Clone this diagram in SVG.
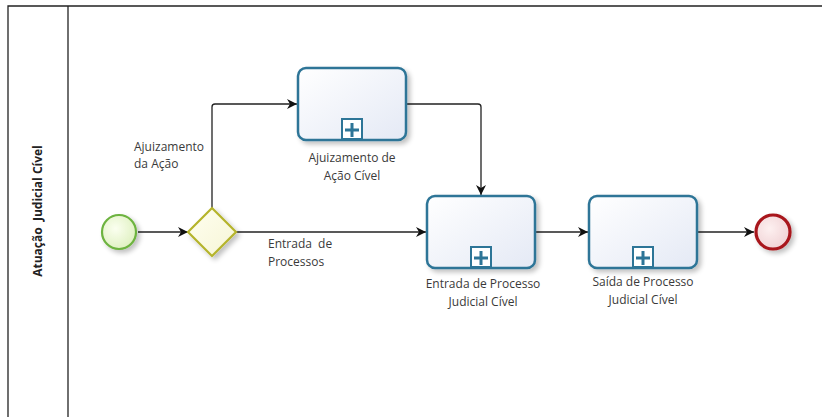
<svg xmlns="http://www.w3.org/2000/svg" width="822" height="417" viewBox="0 0 822 417">
<defs>
<linearGradient id="gTask" x1="0" y1="0" x2="1" y2="1">
<stop offset="0" stop-color="#ffffff"/><stop offset="1" stop-color="#e4e9f5"/>
</linearGradient>
<radialGradient id="gStart" cx="0.4" cy="0.4" r="0.7">
<stop offset="0" stop-color="#fbfff0"/><stop offset="1" stop-color="#dcefbc"/>
</radialGradient>
<radialGradient id="gEnd" cx="0.4" cy="0.4" r="0.7">
<stop offset="0" stop-color="#fdf0f0"/><stop offset="1" stop-color="#efcfd2"/>
</radialGradient>
<linearGradient id="gGw" x1="0" y1="0" x2="1" y2="1">
<stop offset="0" stop-color="#fffff0"/><stop offset="1" stop-color="#f6f5d6"/>
</linearGradient>
<filter id="sh" x="-20%" y="-20%" width="150%" height="150%">
<feGaussianBlur in="SourceAlpha" stdDeviation="2.5"/>
<feOffset dx="3" dy="3" result="b"/>
<feComponentTransfer><feFuncA type="linear" slope="0.25"/></feComponentTransfer>
<feMerge><feMergeNode/><feMergeNode in="SourceGraphic"/></feMerge>
</filter>
<marker id="arr" viewBox="0 0 10 10" refX="10" refY="5" markerWidth="10" markerHeight="10" markerUnits="userSpaceOnUse" orient="auto">
<path d="M0,0 L10,5 L0,10 L3,5 Z" fill="#111"/>
</marker>
</defs>
<style>
text{font-family:"Open Sans","Liberation Sans",sans-serif;font-size:12px;fill:#3a3a3a;white-space:pre}
.task{fill:url(#gTask);stroke:#2d7597;stroke-width:2.5}
.mk{fill:#ffffff;stroke:#2d7597;stroke-width:2}
.plus{fill:#2d7597}
.flow{fill:none;stroke:#222;stroke-width:1.3}
.pool{fill:none;stroke:#222;stroke-width:1.3}
</style>
<rect width="822" height="417" fill="#ffffff"/>
<g id="pool">
<path class="pool" d="M8,417 V6 H822"/>
<line class="pool" x1="68" y1="6" x2="68" y2="417"/>
<text transform="translate(42,211) rotate(-90)" text-anchor="middle" style="font-weight:bold;font-size:12px;fill:#222">Atuação  Judicial Cível</text>
</g>
<g id="connectors">
<line class="flow" x1="138" y1="232" x2="188" y2="232" marker-end="url(#arr)"/>
<path class="flow" d="M212,208 V107 Q212,104 215,104 H297" marker-end="url(#arr)"/>
<path class="flow" d="M236,232 H426" marker-end="url(#arr)"/>
<path class="flow" d="M406,104 H478 Q481,104 481,107 V195" marker-end="url(#arr)"/>
<line class="flow" x1="536" y1="232" x2="588" y2="232" marker-end="url(#arr)"/>
<line class="flow" x1="697" y1="232" x2="754" y2="232" marker-end="url(#arr)"/>
<text x="134" y="151">Ajuizamento</text>
<text x="134" y="168">da Ação</text>
<text x="268" y="248">Entrada  de</text>
<text x="268" y="266">Processos</text>
</g>
<g id="start">
<circle cx="119" cy="232" r="17" fill="url(#gStart)" stroke="#6db33f" stroke-width="2.2" filter="url(#sh)"/>
</g>
<g id="gateway">
<polygon points="212,208 236,232 212,256 188,232" fill="url(#gGw)" stroke="#b5b42c" stroke-width="2.2" filter="url(#sh)"/>
</g>
<g id="task1">
<rect class="task" x="298" y="68" width="108" height="72" rx="8" filter="url(#sh)"/>
<rect class="mk" x="342" y="119" width="20" height="20"/>
<path class="plus" d="M350.5,123h3v5.5h5.5v3h-5.5v5.5h-3v-5.5h-5.5v-3h5.5z"/>
<text x="352" y="162" text-anchor="middle">Ajuizamento de</text>
<text x="352" y="180" text-anchor="middle">Ação Cível</text>
</g>
<g id="task2">
<rect class="task" x="427" y="196" width="108" height="72" rx="8" filter="url(#sh)"/>
<rect class="mk" x="471" y="247" width="20" height="20"/>
<path class="plus" d="M479.5,251h3v5.5h5.5v3h-5.5v5.5h-3v-5.5h-5.5v-3h5.5z"/>
<text x="483" y="288" text-anchor="middle">Entrada de Processo</text>
<text x="483" y="306" text-anchor="middle">Judicial Cível</text>
</g>
<g id="task3">
<rect class="task" x="589" y="196" width="108" height="72" rx="8" filter="url(#sh)"/>
<rect class="mk" x="633" y="247" width="20" height="20"/>
<path class="plus" d="M641.5,251h3v5.5h5.5v3h-5.5v5.5h-3v-5.5h-5.5v-3h5.5z"/>
<text x="643" y="286" text-anchor="middle">Saída de Processo</text>
<text x="643" y="304" text-anchor="middle">Judicial Cível</text>
</g>
<g id="end">
<circle cx="773" cy="232" r="17" fill="url(#gEnd)" stroke="#a8141b" stroke-width="3.2" filter="url(#sh)"/>
</g>
</svg>
